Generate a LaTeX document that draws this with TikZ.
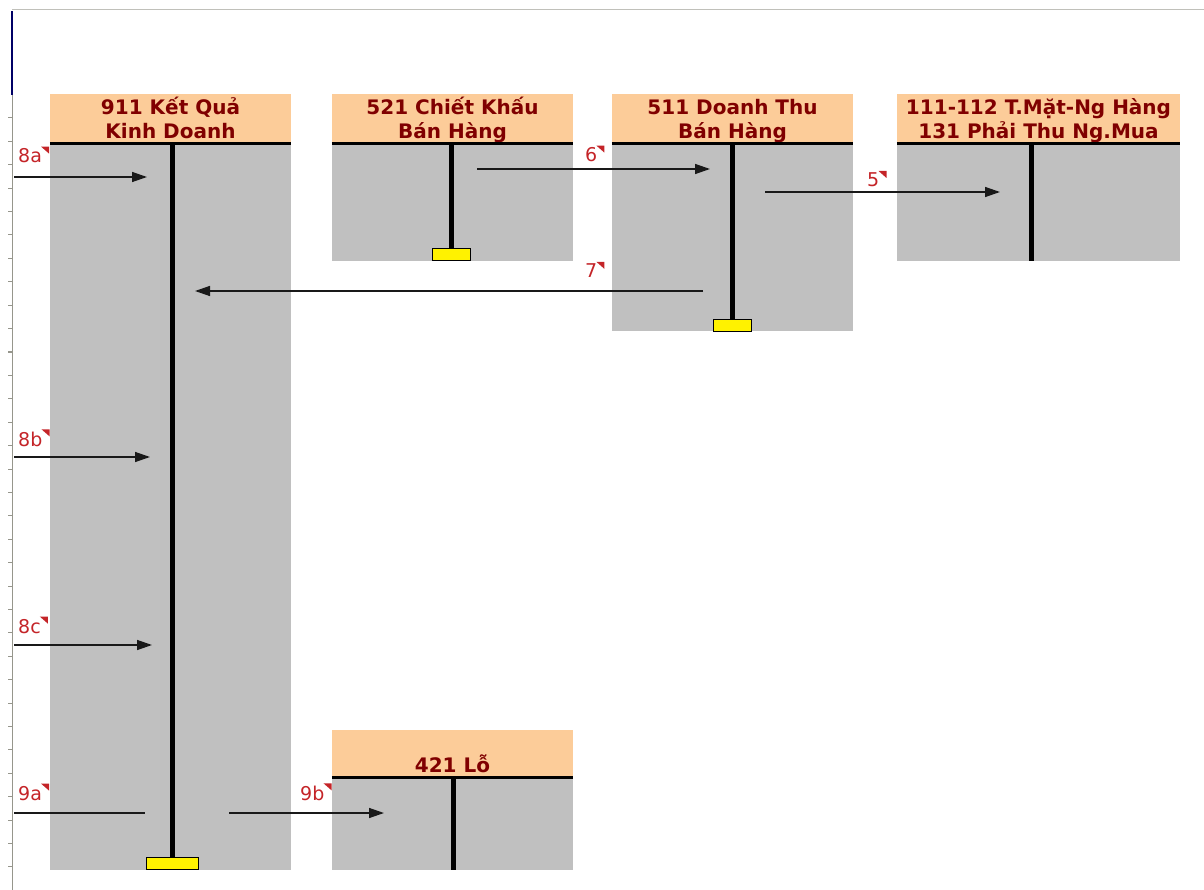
\documentclass[tikz,border=0pt]{standalone}
\usepackage{fontspec}
\setmainfont{DejaVu Sans}
\usetikzlibrary{arrows.meta}

\definecolor{peach}{RGB}{252,204,153}
\definecolor{sheet}{RGB}{192,192,192}
\definecolor{ink}{RGB}{128,0,0}
\definecolor{flagred}{RGB}{196,36,40}
\definecolor{rulergray}{RGB}{150,150,140}

\begin{document}
\begin{tikzpicture}[
x=1pt, y=-1pt,
head/.style={
fill=peach,
inner sep=0pt,
align=center,
text=ink,
minimum height=49pt,
text height=44pt,
text depth=3pt,
font=\fontsize{20}{24}\selectfont\bfseries
},
tag/.style={
text=flagred,
inner sep=0pt,
anchor=base west,
font=\fontsize{19}{20}\selectfont
},
bar/.style={
draw,
fill=yellow,
line width=1pt,
minimum height=12pt,
inner sep=0pt
},
tline/.style={line width=5pt},
flow/.style={line width=1.4pt, draw=black!90, -{Triangle[length=15pt,width=10pt]}}
]

\useasboundingbox (0,0) rectangle (1204,890);

% sheet edges
\draw[rulergray!60, line width=1pt] (12,10) -- (1204,10);
\draw[blue!40!black, line width=2pt] (12,11) -- (12,95);
\draw[rulergray, line width=1pt] (12,95) -- (12,890);
\foreach \k in {0,...,33}
  \draw[rulergray, line width=1pt] (8,118+23.4*\k) -- (12,118+23.4*\k);

% account bodies
\fill[sheet] (50,143) rectangle (291,870);
\fill[sheet] (332,143) rectangle (573,261);
\fill[sheet] (612,143) rectangle (853,331);
\fill[sheet] (897,143) rectangle (1180,261);
\fill[sheet] (332,777) rectangle (573,870);

% headers
\node[head, minimum width=241pt] (H911) at (170.5,118.5) {911 Kết Quả\\Kinh Doanh};
\node[head, minimum width=241pt] (H521) at (452.5,118.5) {521 Chiết Khấu\\Bán Hàng};
\node[head, minimum width=241pt] (H511) at (732.5,118.5) {511 Doanh Thu\\Bán Hàng};
\node[head, minimum width=283pt] (H111) at (1038.5,118.5) {111-112 T.Mặt-Ng Hàng\\131 Phải Thu Ng.Mua};
\node[head, minimum width=241pt, minimum height=47pt, text height=40pt, text depth=3pt] (H421) at (452.5,753.5) {421 Lỗ};

% balance bars
\node[bar, minimum width=52pt] (Y911) at (172,863) {};
\node[bar, minimum width=38pt] (Y521) at (451,255) {};
\node[bar, minimum width=38pt] (Y511) at (732,326) {};
\coordinate (B111) at (1031,261);
\coordinate (B421) at (453,870);

% T lines
\draw[tline] (H911.south -| Y911) -- (Y911.north);
\draw[tline] (H521.south -| Y521) -- (Y521.north);
\draw[tline] (H511.south -| Y511) -- (Y511.north);
\draw[tline] (B111 |- H111.south) -- (B111);
\draw[tline] (B421 |- H421.south) -- (B421);
\foreach \h in {H911,H521,H511,H111,H421}
  \draw[line width=3pt] (\h.south west) -- (\h.south east);
\node[bar, minimum width=52pt] at (Y911) {};
\node[bar, minimum width=38pt] at (Y521) {};
\node[bar, minimum width=38pt] at (Y511) {};

% entry ends
\coordinate (s8a) at (14,177);
\coordinate (e8a) at (147,177);
\coordinate (s6) at (477,169);
\coordinate (e6) at (710,169);
\coordinate (s5) at (765,192);
\coordinate (e5) at (1000,192);
\coordinate (s7) at (703,291);
\coordinate (e7) at (195,291);
\coordinate (s8b) at (14,457);
\coordinate (e8b) at (150,457);
\coordinate (s8c) at (14,645);
\coordinate (e8c) at (152,645);
\coordinate (s9a) at (14,813);
\coordinate (e9a) at (145,813);
\coordinate (s9b) at (229,813);
\coordinate (e9b) at (384,813);

\draw[flow] (s8a) -- (e8a);
\draw[flow] (s6) -- (e6);
\draw[flow] (s5) -- (e5);
\draw[flow] (s7) -- (e7);
\draw[flow] (s8b) -- (e8b);
\draw[flow] (s8c) -- (e8c);
\draw[line width=1.4pt, draw=black!90] (s9a) -- (e9a);
\draw[flow] (s9b) -- (e9b);

% entry tags
\node[tag] (T8a) at (18,163) {8a};
\node[tag] (T6) at (585,162) {6};
\node[tag] (T5) at (867,187) {5};
\node[tag] (T7) at (585,278) {7};
\node[tag] (T8b) at (18,446) {8b};
\node[tag] (T8c) at (18,633) {8c};
\node[tag] (T9a) at (18,800) {9a};
\node[tag] (T9b) at (300,800) {9b};
\foreach \t in {T8a,T6,T5,T7,T8b,T8c,T9a,T9b}
  \fill[flagred] ([xshift=7pt,yshift=2pt]\t.north east) -- ++(-8,0) -- ++(8,7) -- cycle;

\end{tikzpicture}
\end{document}
